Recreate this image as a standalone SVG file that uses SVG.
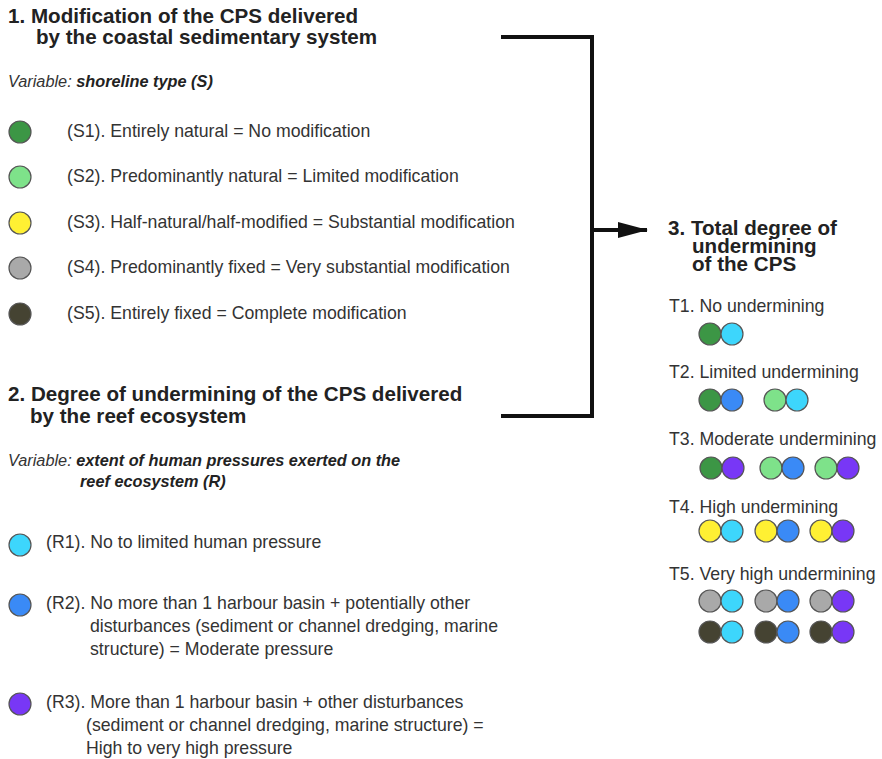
<svg xmlns="http://www.w3.org/2000/svg" width="882" height="759" viewBox="0 0 882 759">
<defs>
<style>
.h{font-family:"Liberation Sans",Arial,sans-serif;font-weight:bold;font-size:20.6px;fill:#222}
.t{font-family:"Liberation Sans",Arial,sans-serif;font-size:17.7px;fill:#333}
.v{font-family:"Liberation Sans",Arial,sans-serif;font-size:16.3px;fill:#333;font-style:italic}
.v tspan.b{font-weight:bold;fill:#222}
.c{stroke:#555;stroke-width:1.2}
.g1{fill:#3c9645}.g2{fill:#7ee28a}.y{fill:#fff033}.gr{fill:#a9a9a9}.d{fill:#454332}
.cy{fill:#3dd6fc}.bl{fill:#3a8af6}.pu{fill:#7837f6}
.ln{fill:none;stroke:#111;stroke-width:4}
</style>
<marker id="ah" markerWidth="30" markerHeight="16" refX="29" refY="8" orient="auto" markerUnits="userSpaceOnUse">
<path d="M0,0 L30,8 L0,16 Z" fill="#111"/>
</marker>
</defs>
<rect width="882" height="759" fill="#fff"/>

<g id="connectors">
<path class="ln" d="M501,37 H592 V416 H501"/>
<path class="ln" d="M592,230 H647" marker-end="url(#ah)"/>
</g>

<g id="node1">
<text class="h" x="8" y="23">1. Modification of the CPS delivered</text>
<text class="h" x="36" y="44">by the coastal sedimentary system</text>
<text class="v" x="8" y="87">Variable: <tspan class="b">shoreline type (S)</tspan></text>
<g id="S1"><circle class="c g1" cx="20" cy="132" r="11"/><text class="t" x="67" y="137">(S1). Entirely natural = No modification</text></g>
<g id="S2"><circle class="c g2" cx="20" cy="177" r="11"/><text class="t" x="67" y="182">(S2). Predominantly natural = Limited modification</text></g>
<g id="S3"><circle class="c y" cx="20" cy="223" r="11"/><text class="t" x="67" y="228">(S3). Half-natural/half-modified = Substantial modification</text></g>
<g id="S4"><circle class="c gr" cx="20" cy="268" r="11"/><text class="t" x="67" y="273">(S4). Predominantly fixed = Very substantial modification</text></g>
<g id="S5"><circle class="c d" cx="20" cy="314" r="11"/><text class="t" x="67" y="319">(S5). Entirely fixed = Complete modification</text></g>
</g>

<g id="node2">
<text class="h" x="8" y="401">2. Degree of undermining of the CPS delivered</text>
<text class="h" x="30" y="423">by the reef ecosystem</text>
<text class="v" x="8" y="466">Variable: <tspan class="b">extent of human pressures exerted on the</tspan></text>
<text class="v" x="80" y="487"><tspan class="b">reef ecosystem (R)</tspan></text>
<g id="R1"><circle class="c cy" cx="20" cy="545" r="11"/><text class="t" x="46" y="548">(R1). No to limited human pressure</text></g>
<g id="R2"><circle class="c bl" cx="20" cy="605" r="11"/>
<text class="t" x="46" y="609">(R2). No more than 1 harbour basin + potentially other</text>
<text class="t" x="90" y="632">disturbances (sediment or channel dredging, marine</text>
<text class="t" x="90" y="655">structure) = Moderate pressure</text></g>
<g id="R3"><circle class="c pu" cx="20" cy="704" r="11"/>
<text class="t" x="46" y="708">(R3). More than 1 harbour basin + other disturbances</text>
<text class="t" x="86" y="731">(sediment or channel dredging, marine structure) =</text>
<text class="t" x="86" y="754">High to very high pressure</text></g>
</g>

<g id="node3">
<text class="h" x="668" y="235">3. Total degree of</text>
<text class="h" x="692" y="253">undermining</text>
<text class="h" x="692" y="271">of the CPS</text>
<g id="T1"><text class="t" x="669" y="312">T1. No undermining</text>
<circle class="c g1" cx="710" cy="334" r="11"/><circle class="c cy" cx="732" cy="334" r="11"/></g>
<g id="T2"><text class="t" x="669" y="378">T2. Limited undermining</text>
<circle class="c g1" cx="710" cy="400" r="11"/><circle class="c bl" cx="732" cy="400" r="11"/>
<circle class="c g2" cx="775" cy="400" r="11"/><circle class="c cy" cx="797" cy="400" r="11"/></g>
<g id="T3"><text class="t" x="669" y="445">T3. Moderate undermining</text>
<circle class="c g1" cx="711" cy="468" r="11"/><circle class="c pu" cx="733" cy="468" r="11"/>
<circle class="c g2" cx="771" cy="468" r="11"/><circle class="c bl" cx="793" cy="468" r="11"/>
<circle class="c g2" cx="826" cy="468" r="11"/><circle class="c pu" cx="848" cy="468" r="11"/></g>
<g id="T4"><text class="t" x="669" y="513">T4. High undermining</text>
<circle class="c y" cx="710" cy="531" r="11"/><circle class="c cy" cx="732" cy="531" r="11"/>
<circle class="c y" cx="766" cy="531" r="11"/><circle class="c bl" cx="788" cy="531" r="11"/>
<circle class="c y" cx="821" cy="531" r="11"/><circle class="c pu" cx="843" cy="531" r="11"/></g>
<g id="T5"><text class="t" x="669" y="580">T5. Very high undermining</text>
<circle class="c gr" cx="710" cy="601" r="11"/><circle class="c cy" cx="732" cy="601" r="11"/>
<circle class="c gr" cx="766" cy="601" r="11"/><circle class="c bl" cx="788" cy="601" r="11"/>
<circle class="c gr" cx="821" cy="601" r="11"/><circle class="c pu" cx="843" cy="601" r="11"/>
<circle class="c d" cx="710" cy="632" r="11"/><circle class="c cy" cx="732" cy="632" r="11"/>
<circle class="c d" cx="766" cy="632" r="11"/><circle class="c bl" cx="788" cy="632" r="11"/>
<circle class="c d" cx="821" cy="632" r="11"/><circle class="c pu" cx="843" cy="632" r="11"/></g>
</g>
</svg>
